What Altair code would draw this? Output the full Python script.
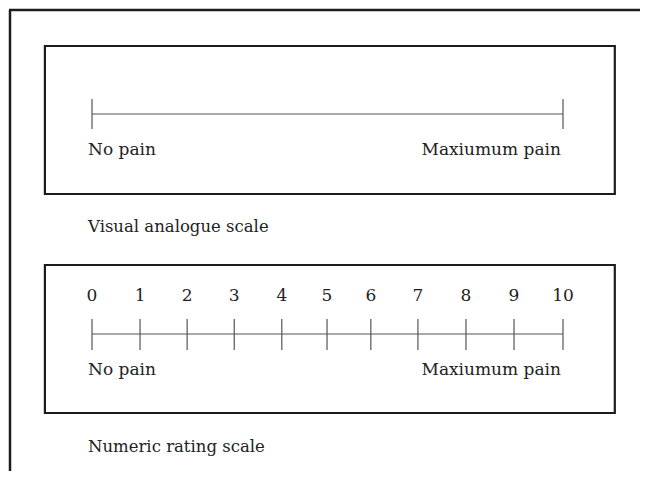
import altair as alt
import pandas as pd

# ---- data ----
nrs_values = [0, 1, 2, 3, 4, 5, 6, 7, 8, 9, 10]
nrs_positions = [0, 1.02, 2.02, 3.02, 4.03, 4.99, 5.92, 6.92, 7.94, 8.96, 10]
vas_ends = [0, 10]
end_labels = ["No pain", "Maxiumum pain"]
scale_titles = ["Visual analogue scale", "Numeric rating scale"]

W, H = 632, 463
PX_PER_UNIT = 47.1
X0 = 84  # pixel of value 0 inside the chart
xs = alt.Scale(domain=[-X0 / PX_PER_UNIT, (W - X0) / PX_PER_UNIT], nice=False, zero=False)

FONT = "DejaVu Serif"
FS = 17
TXT = "#222222"
FRAME = "#1c1c1c"
LINE = "#555555"

def X(field):
    return alt.X(f"{field}:Q", scale=xs, axis=None)

base_dummy = pd.DataFrame({"a": [0]})

# outer frame (left and top strokes)
frame_left = alt.Chart(base_dummy).mark_rule(color=FRAME, strokeWidth=2.5).encode(
    x=alt.value(2), y=alt.value(2), y2=alt.value(H))
frame_top = alt.Chart(base_dummy).mark_rule(color=FRAME, strokeWidth=2.5).encode(
    x=alt.value(1), x2=alt.value(W), y=alt.value(2))

box_df = pd.DataFrame({"left": [-1.0], "right": [11.1]})

def box(y0, y1):
    return alt.Chart(box_df).mark_rect(fill=None, fillOpacity=0, stroke=FRAME, strokeWidth=2.2).encode(
        x=X("left"), x2="right", y=alt.value(y0), y2=alt.value(y1))

line_df = pd.DataFrame({"start": [vas_ends[0]], "end": [vas_ends[1]]})

def hline(y):
    return alt.Chart(line_df).mark_rule(color=LINE, strokeWidth=1.2).encode(
        x=X("start"), x2="end", y=alt.value(y))

def ticks(df, y0, y1):
    return alt.Chart(df).mark_rule(color=LINE, strokeWidth=1.2).encode(
        x=X("pos"), y=alt.value(y0), y2=alt.value(y1))

lab_df = pd.DataFrame({"pos": vas_ends, "label": end_labels})

def end_text(y):
    left = alt.Chart(lab_df.iloc[[0]]).mark_text(
        font=FONT, fontSize=FS, color=TXT, align="left", baseline="middle", dx=-4).encode(
        x=X("pos"), y=alt.value(y), text="label:N")
    right = alt.Chart(lab_df.iloc[[1]]).mark_text(
        font=FONT, fontSize=FS, color=TXT, align="right", baseline="middle", dx=-2).encode(
        x=X("pos"), y=alt.value(y), text="label:N")
    return left + right

def title_text(t, y):
    d = pd.DataFrame({"pos": [0], "label": [t]})
    return alt.Chart(d).mark_text(
        font=FONT, fontSize=16.5, color=TXT, align="left", baseline="middle", dx=-4).encode(
        x=X("pos"), y=alt.value(y), text="label:N")

vas_tick_df = pd.DataFrame({"pos": vas_ends})
nrs_df = pd.DataFrame({"value": nrs_values, "pos": nrs_positions})

nrs_numbers = alt.Chart(nrs_df).mark_text(
    font=FONT, fontSize=FS, color=TXT, align="center", baseline="middle").encode(
    x=X("pos"), y=alt.value(288), text="value:N")

chart = alt.layer(
    frame_left, frame_top,
    box(38, 186),
    hline(106), ticks(vas_tick_df, 91, 121), end_text(142),
    title_text(scale_titles[0], 219),
    box(257, 405),
    nrs_numbers,
    hline(326), ticks(nrs_df, 311, 342), end_text(362),
    title_text(scale_titles[1], 439),
).properties(
    width=W, height=H,
    autosize=alt.AutoSizeParams(type="none"),
    padding=0,
).configure_view(stroke=None)

chart.save("out.html", embed_options={"renderer": "svg", "actions": False})
